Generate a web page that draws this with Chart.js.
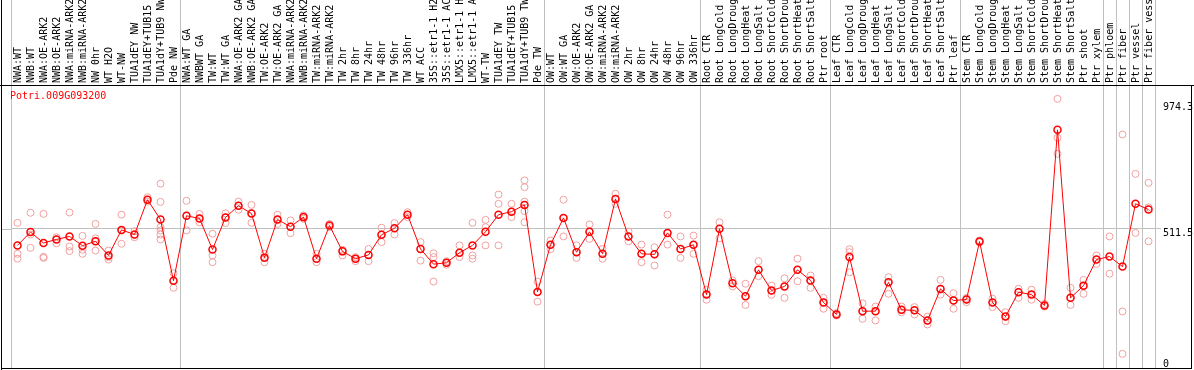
<!DOCTYPE html>
<html>
<head>
<meta charset="utf-8">
<script src="https://cdn.jsdelivr.net/npm/chart.js@4.4.1/dist/chart.umd.min.js"></script>
<style>
  html, body { margin: 0; padding: 0; background: #fff; }
  canvas { display: block; }
</style>
</head>
<body>
<canvas id="chart" width="1194" height="370"></canvas>
<script>
// 遺伝子名
const geneId = "Potri.009G093200";

// サンプル名（図と同じく14文字で切れている）
const samples = [
  "NWA:WT", "NWB:WT", "NWA:OE-ARK2", "NWB:OE-ARK2", "NWA:miRNA-ARK2", "NWB:miRNA-ARK2",
  "NW 0hr", "WT H2O", "WT-NW", "TUA1dEY NW", "TUA1dEY+TUB15", "TUA1dY+TUB9 NW", "Pde NW",
  "NWA:WT GA", "NWBWT GA", "TW:WT", "TW:WT GA", "NWA:OE-ARK2 GA", "NWB:OE-ARK2 GA",
  "TW:OE-ARK2", "TW:OE-ARK2 GA", "NWA:miRNA-ARK2", "NWB:miRNA-ARK2", "TW:miRNA-ARK2",
  "TW:miRNA-ARK2", "TW 2hr", "TW 8hr", "TW 24hr", "TW 48hr", "TW 96hr", "TW 336hr",
  "WT ACC", "35S::etr1-1 H2", "35S::etr1-1 AC", "LMX5::etr1-1 H", "LMX5::etr1-1 A",
  "WT-TW", "TUA1dEY TW", "TUA1dEY+TUB15", "TUA1dY+TUB9 TW", "Pde TW",
  "OW:WT", "OW:WT GA", "OW:OE-ARK2", "OW:OE-ARK2 GA", "OW:miRNA-ARK2", "OW:miRNA-ARK2",
  "OW 2hr", "OW 8hr", "OW 24hr", "OW 48hr", "OW 96hr", "OW 336hr",
  "Root CTR", "Root LongCold", "Root LongDroug", "Root LongHeat", "Root LongSalt",
  "Root ShortCold", "Root ShortDrou", "Root ShortHeat", "Root ShortSalt", "Ptr root",
  "Leaf CTR", "Leaf LongCold", "Leaf LongDroug", "Leaf LongHeat", "Leaf LongSalt",
  "Leaf ShortCold", "Leaf ShortDrou", "Leaf ShortHeat", "Leaf ShortSalt", "Ptr leaf",
  "Stem CTR", "Stem LongCold", "Stem LongDroug", "Stem LongHeat", "Stem LongSalt",
  "Stem ShortCold", "Stem ShortDrou", "Stem ShortHeat", "Stem ShortSalt", "Ptr shoot",
  "Ptr xylem", "Ptr phloem", "Ptr fiber", "Ptr vessel", "Ptr fiber vess"
];

// グループの区切り（この番号のサンプルの左に縦線）
const groupStarts = [0, 13, 41, 53, 63, 73, 84, 85, 86, 87, 88];

// 平均値
const means = [
  451, 500, 460, 473, 484, 450, 466, 414, 508, 491,
  619, 546, 321, 560, 550, 436, 554, 597, 568, 406,
  546, 520, 555, 402, 524, 429, 402, 416, 490, 514,
  564, 438, 382, 387, 424, 451, 501, 564, 575, 600,
  280, 453, 552, 426, 501, 420, 622, 484, 420, 418,
  497, 438, 453, 270, 512, 312, 264, 361, 285, 300,
  361, 322, 241, 197, 408, 209, 209, 315, 214, 212,
  175, 291, 248, 252, 465, 241, 189, 279, 270, 230,
  876, 258, 303, 399, 410, 373, 604, 583
];

// 反復ごとの値
const replicates = [
  [534, 420, 402], [571, 491, 442], [567, 409, 405], [481, 473, 459], [572, 447, 430],
  [486, 435, 420], [530, 477, 466, 432], [432, 408, 399], [564, 506, 457], [503, 490, 481],
  [628, 619, 612], [678, 611, 518, 506, 491, 473], [349, 322, 295], [615, 560, 506], [567, 550, 536],
  [494, 414, 389], [569, 554, 533], [612, 597, 582], [600, 568, 534], [420, 406, 389],
  [564, 546, 530], [543, 520, 496], [561, 555, 549], [420, 402, 389], [530, 524, 518],
  [435, 429, 414], [408, 402, 393], [438, 416, 393], [516, 490, 463], [533, 514, 491],
  [573, 564, 555], [463, 438, 395], [422, 408, 318], [393, 387, 380], [451, 424, 408],
  [534, 414, 402], [545, 518, 451], [638, 604, 451], [604, 575, 555], [690, 665, 612, 600, 577, 536],
  [318, 280, 244], [469, 453, 437], [619, 552, 484], [451, 426, 405], [528, 501, 475],
  [438, 420, 402], [641, 622, 604], [502, 484, 466], [454, 420, 389], [444, 418, 377],
  [564, 497, 454], [484, 438, 405], [487, 453, 420], [288, 270, 251], [536, 512, 477],
  [322, 312, 300], [310, 264, 232], [393, 361, 338], [303, 285, 269], [330, 300, 258],
  [402, 361, 319], [340, 322, 295], [258, 241, 218], [202, 197, 193], [437, 426, 352],
  [238, 209, 181], [226, 209, 175], [334, 315, 273], [226, 214, 205], [224, 212, 197],
  [189, 175, 160], [324, 291, 270], [275, 248, 218], [258, 252, 242], [469, 465, 462],
  [255, 241, 224], [205, 189, 172], [291, 279, 258], [288, 270, 251], [236, 230, 226],
  [990, 847, 788], [295, 258, 232], [324, 303, 273], [414, 399, 383], [484, 347],
  [859, 208, 52], [714, 497], [681, 591, 466]
];

// 右側の目盛り
const yTicks = [0, 511.5, 974.3];
const refLine = 511.5;
const yMax = 1041;

const mono = "'DejaVu Sans Mono', monospace";
const gray = "#c0c0c0";

// 反復を何番目かごとにデータセットにする
const repCount = Math.max(...replicates.map(r => r.length));
const repSets = [];
for (let k = 0; k < repCount; k++) {
  repSets.push({
    data: replicates.map(r => (r[k] === undefined ? null : r[k])),
    showLine: false,
    pointRadius: 3.5,
    pointBorderWidth: 1,
    pointBorderColor: "#f0a0a0",
    pointBackgroundColor: "rgba(0,0,0,0)"
  });
}

// 軸の余白を消して描画領域を固定する
function noPad(s) {
  s.paddingTop = 0;
  s.paddingBottom = 0;
  s.paddingLeft = 0;
  s.paddingRight = 0;
}

// 枠線とタイトル
const frame = {
  id: "frame",
  afterDraw(chart) {
    const { ctx, chartArea, scales } = chart;
    ctx.save();
    const gy = Math.round(scales.y.getPixelForValue(refLine)) + 0.5;
    ctx.strokeStyle = gray;
    ctx.lineWidth = 1;
    ctx.beginPath();
    ctx.moveTo(1, gy);
    ctx.lineTo(chartArea.left, gy);
    ctx.stroke();

    ctx.fillStyle = "#000";
    ctx.fillRect(0, 85, 1194, 1);
    ctx.fillRect(1, 0, 1, 370);
    ctx.fillRect(1191, 85, 1, 284);
    ctx.fillRect(1, 368, 1191, 1);

    ctx.fillStyle = "#ff0000";
    ctx.font = "10px " + mono;
    ctx.textBaseline = "alphabetic";
    ctx.fillText(geneId, 10, 99);
    ctx.restore();
  }
};

new Chart(document.getElementById("chart"), {
  type: "line",
  data: {
    labels: samples,
    datasets: [{
      data: means,
      borderColor: "#ff0000",
      borderWidth: 1,
      tension: 0,
      pointRadius: 3.5,
      pointBorderWidth: 1.5,
      pointBorderColor: "#ff0000",
      pointBackgroundColor: "rgba(0,0,0,0)"
    }, ...repSets]
  },
  options: {
    responsive: false,
    animation: false,
    devicePixelRatio: 1,
    layout: { autoPadding: false, padding: { left: 11, right: 0, top: 0, bottom: 2 } },
    plugins: { legend: { display: false }, tooltip: { enabled: false } },
    scales: {
      x: {
        type: "category",
        position: "top",
        offset: true,
        grid: {
          offset: true,
          tickLength: 85,
          color: c => groupStarts.includes(c.index === undefined ? samples.length : c.index) ? gray : "rgba(0,0,0,0)"
        },
        border: { display: false },
        ticks: {
          autoSkip: false,
          minRotation: 90,
          maxRotation: 90,
          padding: -83,
          labelOffset: 11,
          color: "#000",
          font: { family: mono, size: 10, lineHeight: 1 }
        },
        afterFit: s => { s.height = 85; noPad(s); }
      },
      y: {
        position: "right",
        min: 0,
        max: yMax,
        afterBuildTicks: s => { s.ticks = yTicks.map(v => ({ value: v })); },
        grid: {
          tickLength: 6,
          color: c => (c.tick && c.tick.value === refLine ? gray : "rgba(0,0,0,0)")
        },
        border: { display: false },
        ticks: {
          padding: 2,
          color: "#000",
          font: { family: mono, size: 10, lineHeight: "8px" },
          callback: v => (v === 0 ? ["0", ""] : ["", String(v)])
        },
        afterFit: s => { s.width = 39; noPad(s); }
      }
    }
  },
  plugins: [frame]
});
</script>
</body>
</html>
